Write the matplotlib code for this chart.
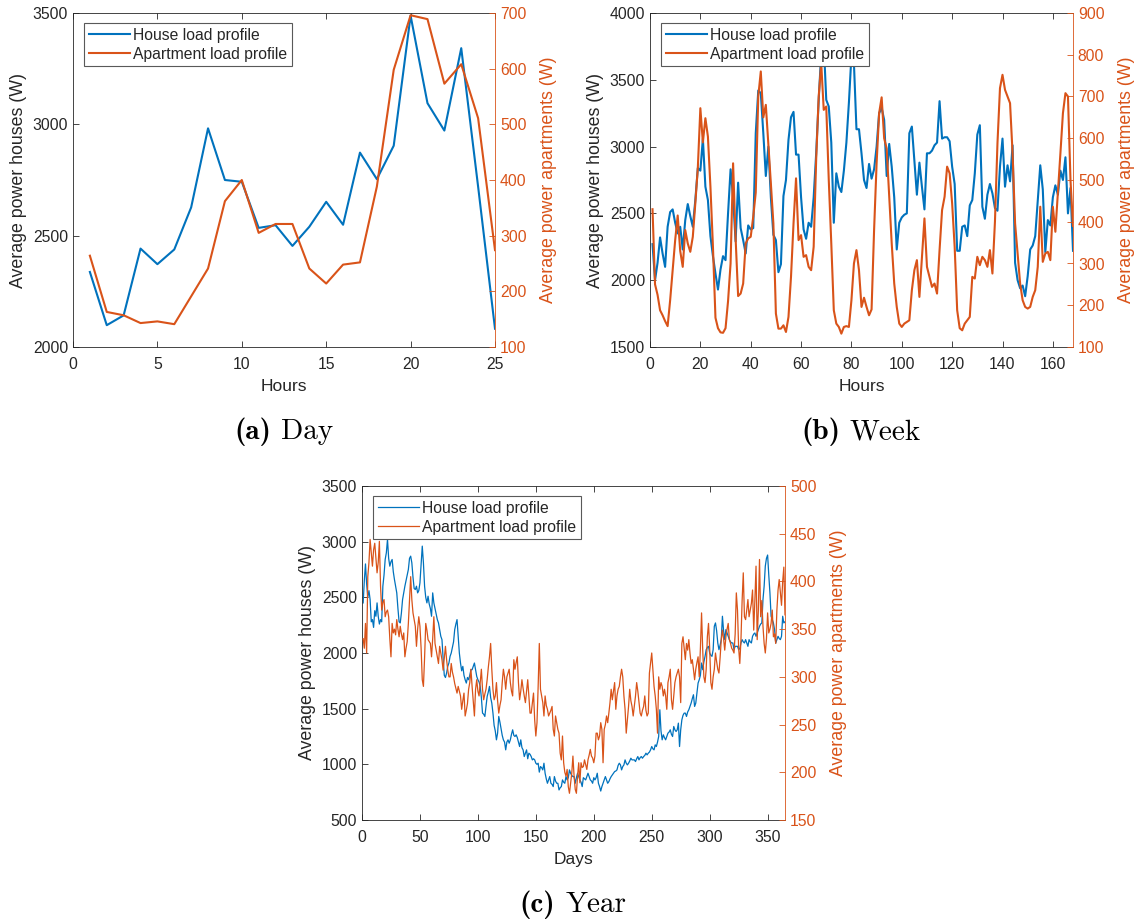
import matplotlib.pyplot as plt
import numpy as np

plt.rcParams["font.family"] = ["Liberation Sans", "DejaVu Sans"]

BLUE = "#0072BD"
ORANGE = "#D95319"
DARK = "#262626"

# ---- average day (hourly) ----
day_hours = np.arange(1, 26)
day_house = [2337, 2098, 2142, 2442, 2372, 2438, 2627, 2982, 2750, 2742,
             2535, 2547, 2454, 2540, 2652, 2549, 2873, 2754, 2904, 3488,
             3095, 2972, 3342, 2720, 2082]
day_apartment = [264, 163, 157, 143, 146, 141, 191, 241, 362, 400,
                 305, 321, 321, 241, 214, 248, 252, 388, 598, 696,
                 689, 573, 608, 511, 274]

# ---- average week (hourly) ----
week_hours = np.arange(1, 169)
week_house = [2270, 2000, 2130, 2320, 2200, 2100, 2400, 2510, 2530, 2430,
              2350, 2400, 2230, 2450, 2570, 2480, 2400, 2600, 2840, 2820,
              3060, 2700, 2600, 2330, 2180, 2050, 1930, 2080, 2180, 2150,
              2500, 2830, 2620, 2290, 2730, 2390, 2300, 2200, 2410, 2380,
              2390, 3100, 3420, 3400, 3100, 2780, 3000, 2620, 2340, 2300,
              2060, 2120, 2630, 2750, 3050, 3220, 3260, 2940, 2940, 2620,
              2380, 2310, 2430, 2400, 2620, 2950, 3350, 3700, 3780, 3350,
              3300, 3030, 2430, 2800, 2700, 2660, 2820, 3030, 3330, 3680,
              3620, 3130, 3130, 2950, 2750, 2690, 2870, 2760, 2830, 3000,
              3250, 3290, 3200, 2780, 3020, 2850, 2620, 2230, 2430, 2470,
              2490, 2500, 3100, 3150, 2900, 2640, 2880, 2700, 2530, 2950,
              2950, 2970, 3010, 3030, 3340, 3060, 3070, 3070, 3040, 2850,
              2720, 2220, 2220, 2400, 2410, 2330, 2560, 2600, 2800, 3090,
              3160, 2550, 2460, 2640, 2720, 2650, 2540, 2520, 2850, 3060,
              2700, 2860, 2740, 3010, 2130, 2000, 1940, 1960, 1880, 2030,
              2230, 2260, 2330, 2600, 2860, 2680, 2210, 2450, 2410, 2620,
              2710, 2640, 2820, 2750, 2920, 2500, 2690, 2220]
week_apartment = [430, 250, 225, 188, 176, 162, 150, 212, 284, 356,
                  415, 330, 292, 380, 348, 328, 364, 444, 530, 672,
                  590, 648, 604, 484, 340, 170, 145, 135, 134, 145,
                  210, 300, 540, 360, 222, 228, 252, 348, 360, 364,
                  412, 470, 700, 760, 650, 680, 588, 492, 396, 180,
                  144, 144, 152, 136, 172, 268, 396, 504, 356, 368,
                  316, 320, 292, 284, 340, 550, 700, 780, 668, 676,
                  500, 348, 188, 156, 148, 132, 148, 150, 148, 212,
                  300, 332, 284, 196, 218, 196, 176, 190, 380, 540,
                  660, 698, 600, 575, 460, 348, 252, 196, 156, 148,
                  156, 160, 164, 236, 284, 308, 220, 316, 408, 292,
                  268, 244, 252, 228, 332, 428, 460, 532, 516, 444,
                  340, 188, 145, 140, 156, 164, 172, 268, 264, 316,
                  296, 316, 308, 292, 332, 276, 400, 588, 720, 752,
                  716, 700, 684, 564, 396, 324, 252, 212, 196, 192,
                  196, 220, 236, 292, 436, 304, 324, 328, 308, 436,
                  376, 468, 564, 660, 708, 700, 500, 390]

# ---- average year (daily) ----
year_days = np.arange(1, 366)
year_house = [2450, 2650, 2800, 2620, 2500, 2560, 2480, 2280, 2300, 2230,
              2380, 2330, 2450, 2330, 2260, 2300, 2280, 2600, 2700, 2840,
              2900, 3020, 2850, 2780, 2820, 2840, 2730, 2660, 2600, 2540,
              2400, 2280, 2270, 2360, 2480, 2540, 2600, 2650, 2700, 2750,
              2850, 2870, 2810, 2680, 2580, 2570, 2600, 2540, 2560, 2630,
              2800, 2960, 2810, 2600, 2500, 2450, 2510, 2440, 2400, 2330,
              2540, 2450, 2400, 2350, 2300, 2270, 2210, 2150, 2120, 1950,
              1800, 1780, 1820, 1880, 1910, 1970, 2000, 2050, 2100, 2210,
              2260, 2300, 2150, 2000, 1910, 1840, 1880, 1800, 1760, 1730,
              1780, 1760, 1800, 1850, 1850, 1880, 1910, 1850, 1790, 1760,
              1740, 1700, 1600, 1460, 1450, 1430, 1520, 1610, 1650, 1700,
              1600, 1550, 1460, 1350, 1300, 1220, 1280, 1430, 1380, 1320,
              1260, 1220, 1200, 1130, 1200, 1220, 1190, 1220, 1270, 1310,
              1260, 1250, 1265, 1240, 1200, 1160, 1220, 1150, 1130, 1070,
              1100, 1130, 1050, 1100, 1090, 1070, 1040, 1050, 1040, 1010,
              1000, 1010, 930, 980, 970, 950, 1010, 920, 870, 830,
              860, 890, 830, 820, 800, 890, 850, 830, 830, 770,
              790, 800, 860, 840, 830, 890, 860, 880, 950, 920,
              900, 890, 890, 830, 880, 920, 890, 860, 840, 800,
              880, 870, 860, 890, 920, 890, 860, 850, 830, 880,
              860, 880, 920, 830, 800, 760, 800, 830, 860, 890,
              860, 830, 845, 870, 890, 905, 920, 935, 940, 950,
              990, 1010, 995, 950, 980, 995, 1040, 1010, 995, 1010,
              1030, 1055, 1040, 1040, 1040, 1025, 1050, 1070, 1040, 1060,
              1070, 1055, 1070, 1080, 1100, 1085, 1100, 1110, 1130, 1160,
              1140, 1130, 1175, 1160, 1200, 1250, 1490, 1300, 1220, 1265,
              1240, 1220, 1250, 1280, 1290, 1310, 1270, 1250, 1340, 1310,
              1295, 1310, 1370, 1160, 1310, 1400, 1440, 1460, 1460, 1430,
              1470, 1490, 1520, 1550, 1590, 1625, 1520, 1550, 1640, 1730,
              1760, 1800, 1910, 1850, 1920, 1970, 2030, 2050, 2060, 2000,
              1980, 1970, 2030, 2240, 2270, 2200, 2090, 2030, 2070, 2120,
              2330, 2200, 2120, 2210, 2180, 2150, 2120, 2100, 2090, 2090,
              2030, 2060, 2060, 2060, 2030, 2040, 2090, 2120, 2100, 2090,
              2120, 2090, 2060, 2120, 2100, 2090, 2150, 2170, 2180, 2150,
              2180, 2210, 2240, 2260, 2270, 2480, 2600, 2780, 2850, 2880,
              2700, 2540, 2330, 2300, 2270, 2210, 2090, 2120, 2150, 2130,
              2120, 2150, 2330, 2270, 2280]
year_apartment = [340, 330, 356, 325, 405, 420, 444, 430, 416, 433,
                  440, 425, 409, 420, 442, 395, 370, 378, 381, 363,
                  368, 370, 363, 340, 321, 356, 346, 350, 344, 360,
                  350, 342, 353, 345, 339, 346, 321, 330, 337, 356,
                  380, 405, 381, 367, 360, 353, 332, 350, 363, 353,
                  330, 297, 290, 320, 356, 349, 339, 337, 335, 321,
                  340, 363, 335, 328, 321, 314, 332, 325, 318, 307,
                  320, 332, 318, 307, 300, 300, 314, 305, 300, 293,
                  288, 283, 290, 285, 280, 266, 275, 283, 259, 265,
                  272, 287, 294, 308, 290, 275, 259, 287, 297, 285,
                  280, 294, 308, 287, 276, 282, 287, 297, 310, 321,
                  335, 308, 287, 276, 280, 294, 275, 262, 270, 276,
                  294, 308, 300, 287, 300, 304, 308, 294, 285, 280,
                  318, 308, 315, 321, 294, 276, 285, 297, 288, 280,
                  273, 285, 297, 280, 262, 262, 273, 283, 255, 238,
                  252, 290, 335, 287, 280, 273, 259, 280, 270, 266,
                  259, 262, 265, 269, 245, 238, 259, 252, 245, 241,
                  220, 213, 238, 210, 200, 196, 203, 185, 178, 189,
                  199, 217, 196, 182, 178, 196, 210, 189, 210, 205,
                  206, 213, 208, 203, 213, 218, 224, 217, 215, 210,
                  217, 241, 241, 234, 238, 252, 245, 210, 245, 250,
                  259, 252, 262, 273, 287, 276, 285, 294, 266, 280,
                  287, 290, 300, 308, 300, 280, 266, 241, 255, 269,
                  287, 275, 269, 259, 270, 280, 294, 285, 273, 262,
                  259, 265, 269, 280, 265, 259, 262, 304, 315, 325,
                  308, 290, 280, 266, 241, 300, 287, 294, 290, 280,
                  287, 280, 266, 294, 300, 308, 276, 266, 280, 294,
                  300, 304, 308, 300, 273, 335, 342, 330, 318, 335,
                  328, 339, 325, 314, 318, 308, 297, 308, 315, 321,
                  300, 330, 367, 328, 300, 294, 308, 342, 356, 330,
                  294, 287, 300, 308, 325, 316, 308, 304, 320, 339,
                  349, 340, 328, 342, 350, 356, 339, 335, 330, 328,
                  325, 345, 388, 370, 330, 314, 339, 380, 409, 363,
                  360, 370, 381, 363, 370, 377, 391, 349, 380, 416,
                  339, 370, 423, 363, 380, 353, 335, 325, 340, 367,
                  346, 350, 356, 370, 342, 345, 335, 370, 391, 402,
                  388, 375, 400, 415, 365]

fig = plt.figure(figsize=(11.38, 9.22), dpi=100)
W, H = 1138, 922


def rect(left, top, right, bottom):
    # axes box given in pixel edges
    return [left / W, 1 - bottom / H, (right - left) / W, (bottom - top) / H]


def load_panel(box, x, house, apartment, xlim, xticks, ylim_h, yticks_h,
               ylim_a, yticks_a, xlabel, lw):
    ax = fig.add_axes(box)
    ax2 = ax.twinx()
    l1, = ax.plot(x, house, color=BLUE, lw=lw, label="House load profile")
    l2, = ax2.plot(x, apartment, color=ORANGE, lw=lw,
                   label="Apartment load profile")
    ax.set_xlim(xlim)
    ax.set_xticks(xticks)
    ax.set_ylim(ylim_h)
    ax.set_yticks(yticks_h)
    ax2.set_ylim(ylim_a)
    ax2.set_yticks(yticks_a)

    ax.tick_params(direction="in", length=4, width=0.6, top=True,
                   labelsize=11.3, colors=DARK)
    ax.tick_params(axis="x", pad=7)
    ax2.tick_params(axis="y", direction="in", length=4, width=0.6,
                    labelsize=11.3, colors=ORANGE)
    for s in ("left", "top", "bottom"):
        ax.spines[s].set_color(DARK)
        ax.spines[s].set_linewidth(0.6)
        ax2.spines[s].set_visible(False)
    ax.spines["right"].set_visible(False)
    ax2.spines["right"].set_color(ORANGE)
    ax2.spines["right"].set_linewidth(0.6)

    ax.set_xlabel(xlabel, fontsize=12.5, color=DARK, labelpad=5)
    ax.set_ylabel("Average power houses (W)", fontsize=12.8, color=DARK)
    ax2.set_ylabel("Average power apartments (W)", fontsize=12.8,
                   color=ORANGE, labelpad=10)

    bw = box[2] * W
    bh = box[3] * H
    leg = ax2.legend(handles=[l1, l2], loc="upper left",
                     bbox_to_anchor=(11 / bw, 1 - 10 / bh), borderaxespad=0,
                     fontsize=11.3, fancybox=False, framealpha=1,
                     edgecolor="0.35", handlelength=2.6, handletextpad=0.25,
                     borderpad=0.3, labelspacing=0.25)
    leg.get_frame().set_linewidth(0.8)
    for t in leg.get_texts():
        t.set_color(DARK)
    return ax, ax2


load_panel(rect(73, 13, 495, 347), day_hours, day_house, day_apartment,
           (0, 25), range(0, 26, 5), (2000, 3500), range(2000, 3501, 500),
           (100, 700), range(100, 701, 100), "Hours", 1.5)

load_panel(rect(650, 13, 1073, 347), week_hours, week_house, week_apartment,
           (0, 168), range(0, 161, 20), (1500, 4000), range(1500, 4001, 500),
           (100, 900), range(100, 901, 100), "Hours", 1.5)

load_panel(rect(362, 486, 785, 820), year_days, year_house, year_apartment,
           (0, 365), range(0, 351, 50), (500, 3500), range(500, 3501, 500),
           (150, 500), range(150, 501, 50), "Days", 0.9)


# sub-figure captions: bold tag in cmb10, name in cmr10, centred as a pair
def caption(cx, cy, tag, name, size=21):
    t1 = fig.text(0, cy / H, tag, fontfamily="cmb10", fontsize=size,
                  va="center", ha="left")
    t2 = fig.text(0, cy / H, name, fontfamily="cmr10", fontsize=size,
                  va="center", ha="left")
    fig.canvas.draw()
    r = fig.canvas.get_renderer()
    w1 = t1.get_window_extent(r).width
    w2 = t2.get_window_extent(r).width
    gap = 0.33 * size * 100 / 72
    x0 = cx - (w1 + gap + w2) / 2
    t1.set_x(x0 / W)
    t2.set_x((x0 + w1 + gap) / W)


caption(284, H - 432, "(a)", "Day")
caption(861, H - 432, "(b)", "Week")
caption(573, H - 905, "(c)", "Year")

fig.savefig("out.png", dpi=100)
